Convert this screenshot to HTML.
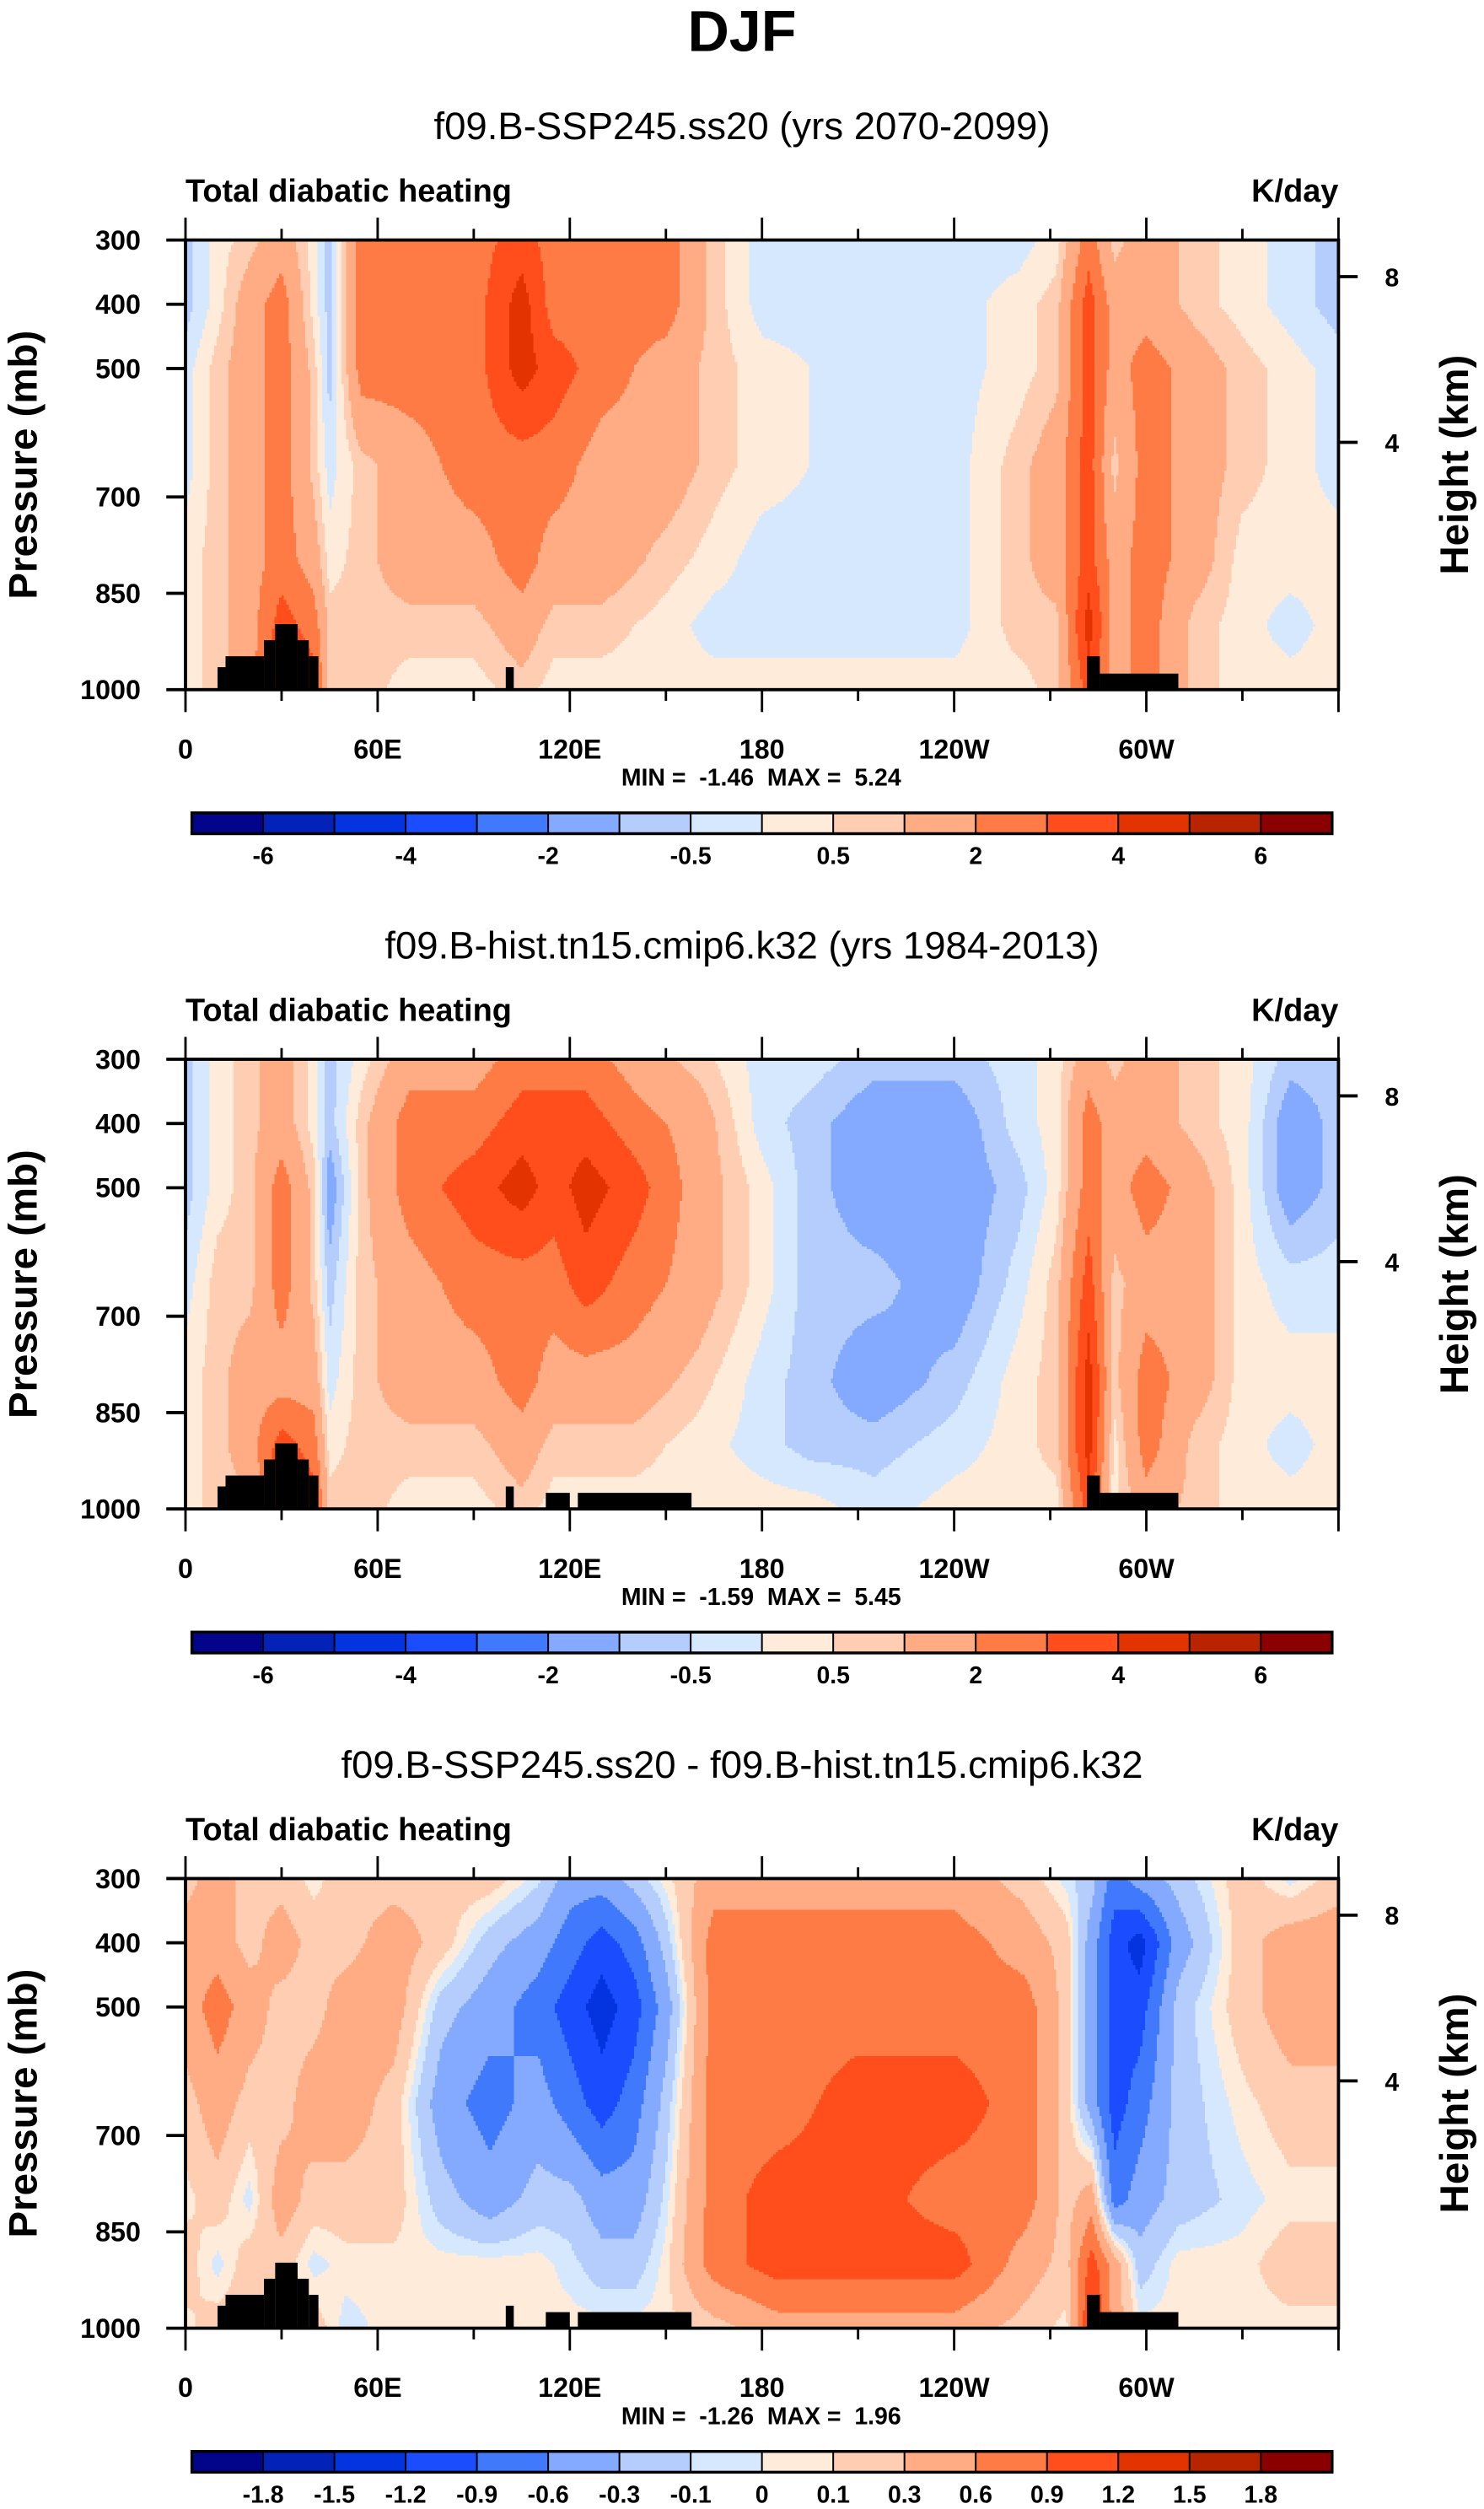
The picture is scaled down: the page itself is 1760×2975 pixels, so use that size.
<!DOCTYPE html>
<html><head><meta charset="utf-8">
<style>
html,body{margin:0;padding:0;background:#fff;}
svg{display:block;font-family:"Liberation Sans",Arial,sans-serif;}
.b{font-weight:bold;}
text{white-space:pre;}
</style></head>
<body>
<svg id="fig" width="1760" height="2975" viewBox="0 0 928 1568" preserveAspectRatio="none" xmlns="http://www.w3.org/2000/svg">
<text x="464" y="32" text-anchor="middle" class="b" font-size="36">DJF</text>
<g id="panels"></g>
</svg>
<script>
// ---------- data ----------
const levels = [300,400,500,650,800,900,1000];
const xTickLabels = ["0","60E","120E","180","120W","60W"];
const xTickLons = [0,60,120,180,240,300];
const pTickLabels = ["300","400","500","700","850","1000"];
const pTickVals = [300,400,500,700,850,1000];
const hTickLabels = ["8","4"];
const hTickPress = [357,615];

const edgesA = [-6,-5,-4,-3,-2,-1,-0.5,0,0.5,1,2,3,4,5,6];
const labelsA = ["-6","","-4","","-2","","-0.5","","0.5","","2","","4","","6"];
const edgesB = [-1.8,-1.5,-1.2,-0.9,-0.6,-0.3,-0.1,0,0.1,0.3,0.6,0.9,1.2,1.5,1.8];
const labelsB = ["-1.8","-1.5","-1.2","-0.9","-0.6","-0.3","-0.1","0","0.1","0.3","0.6","0.9","1.2","1.5","1.8"];
const colors = ["#02058c","#0322b8","#0433e0","#1b4dff","#4079fb","#84aaff","#b4cdfd","#d6e8fe","#ffebda","#ffcdb2","#ffab84","#ff7b45","#ff4e1b","#e23300","#b92400","#8a0000"];

const lons1 = [0,10,20,30,40,45,55,70,90,105,115,130,150,165,180,210,240,260,272,282,290,300,315,330,345,360];
const vals1 = [
[-0.75,-0.75,-0.25,-0.25,0.25,0.25,0.25],
[0.25,0.25,0.75,0.75,0.75,0.75,0.75],
[0.75,1.5,1.5,1.5,1.5,1.5,1.5],
[1.5,2.5,2.5,2.5,2.5,3.5,4.5],
[0.25,0.25,0.75,0.75,1.5,2.5,3.5],
[-0.75,-0.75,-0.75,-0.25,0.25,0.75,0.75],
[2.5,2.5,2.5,0.75,0.75,0.75,0.75],
[2.5,2.5,2.5,1.5,1.5,0.75,0.25],
[2.5,2.5,2.5,2.5,1.5,0.75,0.25],
[3.5,4.5,4.5,2.5,2.5,1.5,0.75],
[2.5,2.5,3.5,2.5,1.5,0.75,0.25],
[2.5,2.5,2.5,1.5,1.5,0.75,0.25],
[2.5,2.5,1.5,1.5,0.75,0.25,0.25],
[0.75,0.75,0.75,0.75,0.25,-0.25,0.25],
[-0.25,-0.25,0.25,0.25,-0.25,-0.25,0.25],
[-0.25,-0.25,-0.25,-0.25,-0.25,-0.25,0.25],
[-0.25,-0.25,-0.25,-0.25,-0.25,-0.25,0.25],
[-0.25,0.25,0.25,0.75,0.75,0.75,0.25],
[0.25,0.75,0.75,1.5,1.5,0.75,0.75],
[2.5,3.5,3.5,3.5,3.5,4.5,3.5],
[0.75,1.5,1.5,0.75,1.5,1.5,1.5],
[1.5,1.5,2.5,2.5,2.5,2.5,2.5],
[0.75,0.75,1.5,1.5,1.5,0.75,0.75],
[0.25,0.25,0.75,0.75,0.25,0.25,0.25],
[-0.25,-0.25,0.25,0.25,0.25,-0.25,0.25],
[-0.75,-0.75,-0.25,-0.25,0.25,0.25,0.25]];

const lons2 = [0,10,20,30,40,45,55,70,90,105,115,125,140,160,180,195,215,240,260,272,282,290,300,315,330,345,360];
const vals2 = [
[-0.75,-0.75,-0.75,-0.25,0.25,0.25,0.25],
[0.25,0.25,0.25,0.75,0.75,0.75,0.75],
[0.75,0.75,0.75,0.75,1.5,1.5,0.75],
[1.5,1.5,2.5,2.5,1.5,3.5,4.5],
[0.25,0.25,0.75,0.75,1.5,2.5,3.5],
[-0.75,-0.75,-1.5,-0.75,-0.25,0.25,0.75],
[0.25,0.75,0.75,0.75,0.75,0.75,0.75],
[1.5,2.5,2.5,1.5,1.5,0.75,0.25],
[1.5,2.5,3.5,2.5,1.5,0.75,0.25],
[2.5,3.5,4.5,2.5,2.5,1.5,0.75],
[2.5,3.5,3.5,2.5,1.5,0.75,0.25],
[2.5,3.5,4.5,3.5,1.5,0.75,0.25],
[1.5,2.5,3.5,2.5,1.5,0.75,0.25],
[0.75,1.5,1.5,1.5,0.75,0.25,0.25],
[-0.25,-0.25,0.25,0.25,-0.25,-0.25,0.25],
[-0.25,-0.75,-0.75,-0.75,-0.75,-0.75,0.25],
[-0.75,-1.5,-1.5,-0.75,-1.5,-0.75,-0.25],
[-0.75,-1.5,-1.5,-1.5,-0.75,-0.25,0.25],
[-0.25,-0.25,-0.75,-0.25,0.25,0.25,0.25],
[0.25,0.25,0.25,0.75,0.75,0.75,0.25],
[1.5,2.5,2.5,3.5,4.5,4.5,3.5],
[0.75,1.5,1.5,0.75,0.75,0.25,0.25],
[1.5,1.5,2.5,1.5,2.5,2.5,1.5],
[0.75,0.75,1.5,1.5,1.5,0.75,0.75],
[0.25,0.25,0.25,0.25,0.25,0.25,0.25],
[-0.75,-1.5,-1.5,-0.25,0.25,-0.25,0.25],
[-0.75,-0.75,-0.75,-0.25,0.25,0.25,0.25]];

const lons3 = [0,10,20,30,40,50,65,80,95,110,120,130,140,150,165,185,210,240,262,275,283,290,298,310,330,345,360];
const vals3 = [
[0.2,0.45,0.45,0.2,0.05,0.2,0.05],
[0.45,0.45,0.75,0.45,0.2,-0.05,0.2],
[0.2,0.2,0.45,0.2,-0.05,0.2,0.2],
[0.2,0.45,0.2,0.2,0.45,0.2,0.2],
[0.05,0.2,0.2,0.45,0.2,-0.05,0.2],
[0.2,0.2,0.45,0.45,0.2,0.05,-0.05],
[0.2,0.45,0.45,0.2,0.2,0.05,0.05],
[0.2,0.2,-0.2,-0.45,-0.2,0.05,0.05],
[0.2,-0.2,-0.45,-0.75,-0.45,0.05,0.05],
[-0.05,-0.45,-0.75,-0.45,-0.2,0.05,0.05],
[-0.45,-0.75,-1.05,-0.75,-0.2,-0.05,0.05],
[-0.45,-1.05,-1.35,-1.05,-0.45,-0.2,0.05],
[-0.2,-0.75,-1.05,-0.75,-0.45,-0.2,0.05],
[0.05,-0.2,-0.45,-0.2,-0.05,0.05,0.05],
[0.45,0.75,0.75,0.75,0.75,0.75,0.2],
[0.45,0.75,0.75,0.75,1.05,1.05,0.45],
[0.45,0.75,0.75,1.05,1.05,1.05,0.45],
[0.45,0.75,0.75,1.05,0.75,1.05,0.45],
[0.2,0.45,0.75,0.75,0.75,0.45,0.2],
[-0.05,0.2,0.2,0.2,0.2,0.2,0.05],
[-0.2,-0.45,-0.45,-0.45,0.45,1.05,1.35],
[-0.75,-1.05,-1.05,-1.05,-0.75,0.45,0.45],
[-0.45,-1.35,-1.05,-0.75,-0.45,-0.2,0.05],
[-0.2,-0.45,-0.2,-0.2,-0.2,0.05,0.05],
[0.2,0.2,0.2,0.05,-0.05,0.05,0.05],
[-0.05,0.45,0.45,0.2,0.05,0.2,0.05],
[0.2,0.45,0.45,0.2,0.05,0.2,0.05]];

const terrainStart1 = [10,12.5,24.5,28,35,38.5,100,281.5,285.5];
const terrainEnd1   = [12.5,24.5,28,35,38.5,41.5,102.5,285.5,310];
const terrainP1     = [965,948,923,898,923,948,965,948,975];
const terrainStart2 = [10,12.5,24.5,28,35,38.5,100,112.5,122.5,281.5,285.5];
const terrainEnd2   = [12.5,24.5,28,35,38.5,41.5,102.5,120,158,285.5,310];
const terrainP2     = [965,948,923,898,923,948,965,975,975,948,975];

const titles = ["f09.B-SSP245.ss20 (yrs 2070-2099)","f09.B-hist.tn15.cmip6.k32 (yrs 1984-2013)","f09.B-SSP245.ss20 - f09.B-hist.tn15.cmip6.k32"];
const minVals = ["-1.46","-1.59","-1.26"];
const maxVals = ["5.24","5.45","1.96"];

// ---------- drawing ----------
const NS = "http://www.w3.org/2000/svg";
const X0 = 116, X1 = 837;
function mk(tag, attrs, parent){const e=document.createElementNS(NS,tag);for(const k in attrs)e.setAttribute(k,attrs[k]);parent.appendChild(e);return e;}
function xScale(lon){return X0 + lon/360*(X1-X0);}
function yScale(p, top, bot){return top + (p-300)/700*(bot-top);}
function interp(lons, vals, lon, p){
  let i=0; while(i<lons.length-2 && lon>lons[i+1]) i++;
  const tx=(lon-lons[i])/(lons[i+1]-lons[i]);
  let j=0; while(j<levels.length-2 && p>levels[j+1]) j++;
  const ty=(p-levels[j])/(levels[j+1]-levels[j]);
  const a=vals[i][j]*(1-ty)+vals[i][j+1]*ty;
  const b=vals[i+1][j]*(1-ty)+vals[i+1][j+1]*ty;
  return a*(1-tx)+b*tx;
}
function colorIdx(v, edges){let k=0; while(k<edges.length && v>=edges[k]) k++; return k;}

const root = document.getElementById('panels');
const panelLons=[lons1,lons2,lons3], panelVals=[vals1,vals2,vals3];
const tS=[terrainStart1,terrainStart2,terrainStart2], tE=[terrainEnd1,terrainEnd2,terrainEnd2], tP=[terrainP1,terrainP2,terrainP2];
const panelEdges=[edgesA,edgesA,edgesB], panelLabels=[labelsA,labelsA,labelsB];

for(let n=0;n<3;n++){
  const off=n*512, top=150+off, bot=431+off;
  const g=mk('g',{},root);
  
  
  const st=mk('text',{x:464,y:87+off,'text-anchor':'middle','font-size':24},g);
  
  
  st.textContent=titles[n];
  const lt=mk('text',{x:116,y:126+off,'font-size':20,class:'b'},g);
  
  
  lt.textContent='Total diabatic heating';
  const rt=mk('text',{x:837,y:126+off,'font-size':20,class:'b','text-anchor':'end'},g);
  
  
  rt.textContent='K/day';

  const cg=mk('g',{'shape-rendering':'crispEdges'},g);
  
  
  const edges=panelEdges[n];
  const dx=1.5, dy=1.5;
  const nx=Math.ceil((X1-X0)/dx), ny=Math.ceil((bot-top)/dy);
  for(let r=0;r<ny;r++){
    const y=top+r*dy;
    const p=300+((y+dy/2-top)/(bot-top))*700;
    let runStart=0, runC=-1;
    for(let c=0;c<=nx;c++){
      let ci=-1;
      if(c<nx){
        const lon=((X0+(c+0.5)*dx)-X0)/(X1-X0)*360;
        ci=colorIdx(interp(panelLons[n],panelVals[n],Math.min(lon,360),p),edges);
      }
      if(ci!==runC){
        if(runC>=0){
          const x=X0+runStart*dx, w=Math.min((c-runStart)*dx, X1-x);
          const rc=mk('rect',{x:x,y:y,width:w+0.3,height:Math.min(dy+0.3,bot-y),fill:colors[runC]},cg);
          
          
        }
        runStart=c; runC=ci;
      }
    }
  }
  for(let k=0;k<tS[n].length;k++){
    const yy=yScale(tP[n][k],top,bot);
    const tr=mk('rect',{x:xScale(tS[n][k]),y:yy,width:xScale(tE[n][k])-xScale(tS[n][k]),height:bot-yy,fill:'#000'},g);
    
    
  }
  const fr=mk('rect',{x:X0,y:top,width:X1-X0,height:bot-top,fill:'none',stroke:'#000','stroke-width':2},g);
  
  
  for(let lon=0;lon<=360;lon+=30){
    const x=xScale(lon), L=(lon%60===0)?14:7;
    mk('line',{x1:x,y1:top,x2:x,y2:top-L,stroke:'#000','stroke-width':1.5},g);
    mk('line',{x1:x,y1:bot,x2:x,y2:bot+L,stroke:'#000','stroke-width':1.5},g);
  }
  for(let k=0;k<xTickLabels.length;k++){
    const t=mk('text',{x:xScale(xTickLons[k]),y:bot+43,'text-anchor':'middle','font-size':17,class:'b'},g);
    
    
    t.textContent=xTickLabels[k];
  }
  for(let k=0;k<pTickVals.length;k++){
    const y=yScale(pTickVals[k],top,bot);
    mk('line',{x1:X0,y1:y,x2:X0-12,y2:y,stroke:'#000','stroke-width':2},g);
    const t=mk('text',{x:88,y:y+6,'text-anchor':'end','font-size':17,class:'b'},g);
    
    
    t.textContent=pTickLabels[k];
  }
  for(let k=0;k<hTickPress.length;k++){
    const y=yScale(hTickPress[k],top,bot);
    mk('line',{x1:X1,y1:y,x2:X1+12,y2:y,stroke:'#000','stroke-width':2},g);
    const t=mk('text',{x:866,y:y+6,'font-size':16,class:'b'},g);
    
    
    t.textContent=hTickLabels[k];
  }
  const yl=mk('text',{x:0,y:0,transform:`translate(23,${(top+bot)/2}) rotate(-90)`,'text-anchor':'middle','font-size':25,class:'b'},g);
  
  
  yl.textContent='Pressure (mb)';
  const hl=mk('text',{x:0,y:0,transform:`translate(918,${(top+bot)/2}) rotate(-90)`,'text-anchor':'middle','font-size':25,class:'b'},g);
  
  
  hl.textContent='Height (km)';
  const mm=mk('text',{x:476,y:491+off,'text-anchor':'middle','font-size':15,class:'b'},g);
  
  
  mm.textContent='MIN =  '+minVals[n]+'  MAX =  '+maxVals[n];
  const cb=mk('g',{},g);
  
  
  const cx0=120, cx1=833, cy=508+off, ch=13, bw=(cx1-cx0)/16;
  for(let k=0;k<16;k++){
    const r=mk('rect',{x:cx0+k*bw,y:cy,width:bw,height:ch,fill:colors[k],stroke:'#000','stroke-width':1},cb);
    
    
  }
  mk('rect',{x:cx0,y:cy,width:cx1-cx0,height:ch,fill:'none',stroke:'#000','stroke-width':1.8},cb);
  const labs=panelLabels[n];
  for(let k=0;k<labs.length;k++){
    if(!labs[k]) continue;
    const t=mk('text',{x:cx0+(k+1)*bw,y:cy+32,'text-anchor':'middle','font-size':15,class:'b'},cb);
    
    
    t.textContent=labs[k];
  }
}
</script>
</body></html>
